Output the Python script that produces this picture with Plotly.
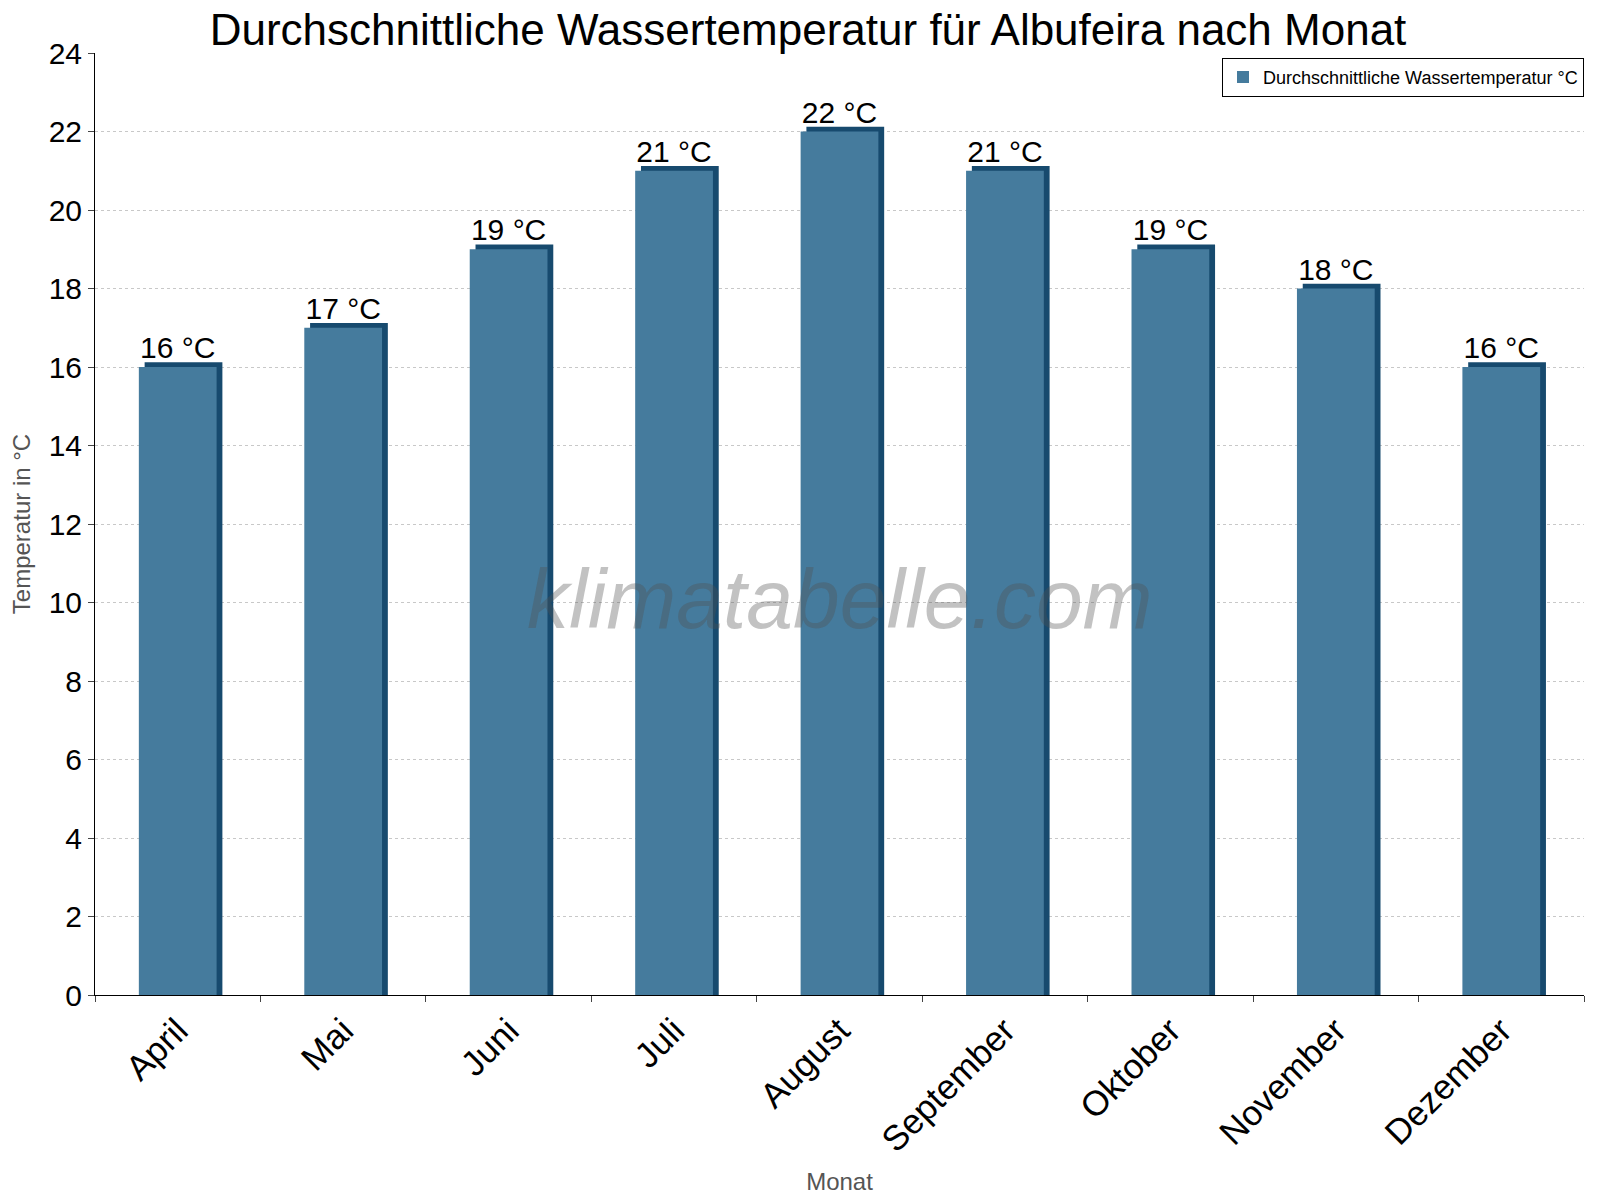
import plotly.graph_objects as go

months = ["April","Mai","Juni","Juli","August","September","Oktober","November","Dezember"]
temps = [16,17,19,21,22,21,19,18,16]
labels = [f"{t} °C" for t in temps]

W = 0.47
fig = go.Figure()
fig.add_trace(go.Bar(x=months, y=[t+0.12 for t in temps], width=W, offset=-W/2+0.035,
                     marker=dict(color="#174a6e", line=dict(width=0)), showlegend=False, hoverinfo="skip"))
fig.add_trace(go.Bar(x=months, y=temps, width=W, offset=-W/2, name="Durchschnittliche Wassertemperatur °C",
                     marker=dict(color="#457b9d", line=dict(width=0)),
                     text=labels, textposition="outside", textfont=dict(size=30, color="black"), cliponaxis=False))
fig.update_layout(
    width=1600, height=1200, barmode="overlay", plot_bgcolor="white", paper_bgcolor="white",
    font=dict(family="Liberation Sans, Arial", color="black"),
    margin=dict(l=78, r=24, t=45, b=213),
    title=dict(text="Durchschnittliche Wassertemperatur für Albufeira nach Monat", x=0.5, xanchor="center",
               y=0.982, yanchor="middle", font=dict(size=44)),
    showlegend=True,
    legend=dict(x=1, xanchor="right", y=0.995, yanchor="top", bordercolor="black", borderwidth=1,
                font=dict(size=18), itemsizing="constant", bgcolor="white"),
    xaxis=dict(showline=True, linecolor="black", ticks="outside", tickson="boundaries", ticklen=6,
               tickangle=-45, tickfont=dict(size=35), title=dict(text="Monat", font=dict(size=24, color="#555")),
               range=[-0.5, 8.5]),
    yaxis=dict(range=[0,24], dtick=2, showline=True, linecolor="black", ticks="outside", ticklen=6,
               tickfont=dict(size=30), gridcolor="#c8c8c8", griddash="dot", zeroline=False,
               title=dict(text="Temperatur in °C", font=dict(size=24, color="#555"), standoff=12)),
)
fig.add_annotation(text="<i>klimatabelle.com</i>", xref="paper", yref="paper", x=0.5, y=0.42,
                   showarrow=False, font=dict(size=84, color="rgba(80,80,80,0.35)"))
fig.write_html("out.html")
